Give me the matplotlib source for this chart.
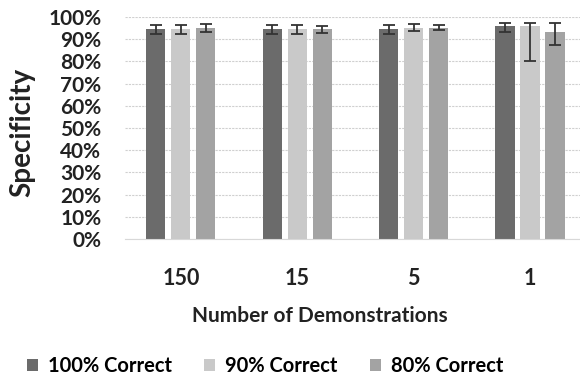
import numpy as np
import matplotlib
matplotlib.use('Agg')
import matplotlib.pyplot as plt

# Data
demos = ['150', '15', '5', '1']
series = ['100% Correct', '90% Correct', '80% Correct']
spec_100 = [94.5, 94.5, 94.5, 95.8]
spec_90 = [94.5, 94.5, 95.2, 95.8]
spec_80 = [95.0, 94.5, 95.2, 93.3]
# asymmetric error bars (lower, upper)
err_100 = [[2.0, 2.0, 2.0, 2.6], [2.0, 2.0, 2.0, 1.6]]
err_90 = [[2.0, 2.0, 1.5, 15.5], [2.0, 2.0, 1.5, 1.6]]
err_80 = [[1.8, 1.5, 1.2, 5.8], [1.8, 1.5, 1.2, 4.2]]

colors = ['#6b6b6b', '#c9c9c9', '#a3a3a3']

plt.rcParams['font.family'] = ['Lato', 'DejaVu Sans']

fig = plt.figure(figsize=(5.8, 3.83), dpi=100)
ax = fig.add_axes([125/580, 144/383, 455/580, 222/383])

x = np.arange(len(demos))
step = 0.215
width = 0.165
vals = [spec_100, spec_90, spec_80]
errs = [err_100, err_90, err_80]
for i, (v, e) in enumerate(zip(vals, errs)):
    ax.bar(x + (i - 1) * step, v, width, color=colors[i], label=series[i], zorder=2,
           yerr=e, error_kw=dict(ecolor='#333333', elinewidth=1.3, capsize=4, capthick=1.3))

ax.set_ylim(0, 100)
ax.set_xlim(-0.48, 3.43)
ax.set_yticks(np.arange(0, 101, 10))
ax.set_yticklabels([f'{t}%' for t in range(0, 101, 10)], fontsize=15, fontweight='bold', color='#222222')
ax.set_xticks(x)
ax.set_xticklabels(demos, fontsize=15.5, fontweight='bold', color='#222222')
ax.tick_params(axis='both', length=0)
ax.tick_params(axis='x', pad=21)
ax.tick_params(axis='y', pad=17)
ax.yaxis.grid(True, color='#d0d0d0', linestyle=(0, (2, 1)), linewidth=0.8, zorder=0)
for s in ['top', 'right', 'left']:
    ax.spines[s].set_visible(False)
ax.spines['bottom'].set_color('#d8d8d8')

fig.text(22/580, 1 - 132/383, 'Specificity', rotation=90, ha='center', va='center',
         fontsize=20, fontweight='bold', color='#222222')
fig.text(320/580, 1 - 316/383, 'Number of Demonstrations', ha='center', va='center',
         fontsize=15, fontweight='bold', color='#222222')

fig.legend(loc='center', bbox_to_anchor=(265/580, 1 - 366/383), ncol=3, frameon=False,
           prop=dict(family='Lato', weight='bold', size=14.5), handlelength=0.55, handleheight=0.55,
           handletextpad=0.5, columnspacing=1.6)

plt.savefig('out.png', dpi=100)
